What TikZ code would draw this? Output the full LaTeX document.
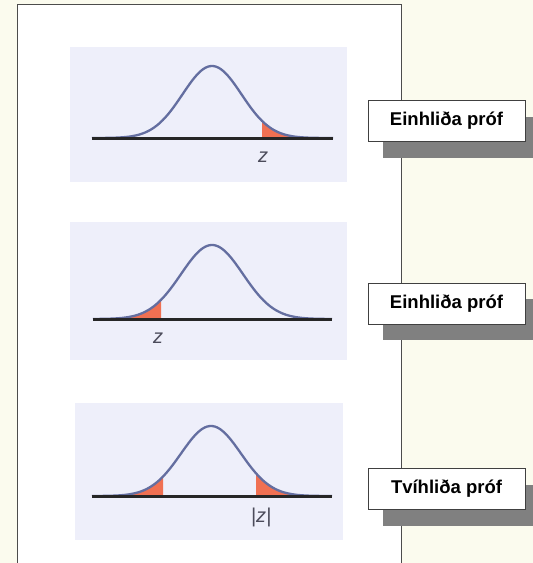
\documentclass[tikz,border=0pt]{standalone}
\usepackage{fontspec}
\setmainfont{Liberation Sans}
\usetikzlibrary{shadows}
\definecolor{pagebg}{RGB}{251,251,238}
\definecolor{panelbg}{RGB}{238,239,250}
\definecolor{bellblue}{RGB}{100,110,160}
\definecolor{tailred}{RGB}{240,112,82}
\definecolor{zgrey}{RGB}{75,75,90}
\tikzset{
  testbox/.style={draw=black!75, fill=white, line width=0.8pt,
    minimum width=157pt, minimum height=41pt,
    font=\fontsize{18.5}{20}\selectfont\bfseries,
    drop shadow={shadow xshift=15pt, shadow yshift=-16pt, fill=black!50, opacity=1}},
  bell/.style={draw=bellblue, line width=2.3pt},
  axisline/.style={draw=black!85, line width=3pt},
  tail/.style={fill=tailred},
  zlabel/.style={font=\fontsize{20}{22}\selectfont\itshape, text=zgrey},
}
\begin{document}
\begin{tikzpicture}[x=1pt,y=-1pt]
    \useasboundingbox (0,0) rectangle (533,563);
    %sfondo
    \fill[pagebg] (0,0) rectangle (533,563);
    \draw[fill=white, draw=black!70, line width=1pt] (17,4) rectangle (401,570);
    \fill[panelbg] (70,47) rectangle (347,182);
    \fill[panelbg] (70,222) rectangle (347,360);
    \fill[panelbg] (75,403) rectangle (343,540);
    %curva 1: coda destra
    \begin{scope}[shift={(212,138)}]
        \fill[tail] (50,0) -- plot[domain=50:100, samples=30] (\x,{-72*exp(-((\x/29.5)^2)/2)}) -- (100,0) -- cycle;
        \draw[bell] plot[domain=-120:121, samples=120] (\x,{-72*exp(-((\x/29.5)^2)/2)});
        \draw[axisline] (-120,0) -- (121,0);
        \node[zlabel] (zA) at (51,19) {z};
    \end{scope}
    %curva 2: coda sinistra
    \begin{scope}[shift={(212,319)}]
        \fill[tail] (-100,0) -- plot[domain=-100:-51, samples=30] (\x,{-74*exp(-((\x/31)^2)/2)}) -- (-51,0) -- cycle;
        \draw[bell] plot[domain=-119:120, samples=120] (\x,{-74*exp(-((\x/31)^2)/2)});
        \draw[axisline] (-119,0) -- (120,0);
        \node[zlabel] (zB) at (-54,19) {z};
    \end{scope}
    %curva 3: due code
    \begin{scope}[shift={(211,496)}]
        \fill[tail] (-100,0) -- plot[domain=-100:-48, samples=30] (\x,{-70*exp(-((\x/30)^2)/2)}) -- (-48,0) -- cycle;
        \fill[tail] (45,0) -- plot[domain=45:100, samples=30] (\x,{-70*exp(-((\x/30)^2)/2)}) -- (100,0) -- cycle;
        \draw[bell] plot[domain=-119:121, samples=120] (\x,{-70*exp(-((\x/30)^2)/2)});
        \draw[axisline] (-119,0) -- (121,0);
        \node[zlabel] (zC) at (50,21) {|z|};
    \end{scope}
    %riquadri
    \node[testbox] (oneA) at (446.5,121) {Einhliða próf};
    \node[testbox] (oneB) at (446.5,303.5) {Einhliða próf};
    \node[testbox] (two) at (446.5,489) {Tvíhliða próf};
\end{tikzpicture}
\end{document}
